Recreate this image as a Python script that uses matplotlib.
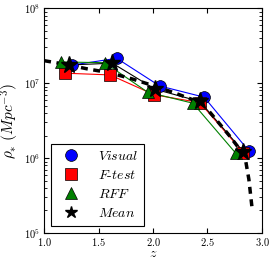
import matplotlib
matplotlib.use('Agg')
import matplotlib.pyplot as plt
from matplotlib.lines import Line2D

plt.rcParams['font.family'] = 'serif'
plt.rcParams['font.serif'] = ['cmr10', 'DejaVu Serif']
plt.rcParams['mathtext.fontset'] = 'cm'
plt.rcParams['axes.formatter.use_mathtext'] = True
plt.rcParams['xtick.direction'] = 'in'
plt.rcParams['ytick.direction'] = 'in'
plt.rcParams['xtick.top'] = True
plt.rcParams['ytick.right'] = True

# binned densities for each method
z_visual = [1.26, 1.667, 2.06, 2.47, 2.877]
rho_visual = [1.75e7, 2.15e7, 9.2e6, 6.5e6, 1.26e6]

z_ftest = [1.194, 1.605, 2.012, 2.43, 2.83]
rho_ftest = [1.36e7, 1.29e7, 7.0e6, 5.5e6, 1.18e6]

z_rff = [1.155, 1.556, 1.95, 2.367, 2.76]
rho_rff = [1.92e7, 1.88e7, 7.6e6, 5.4e6, 1.16e6]

z_mean = [1.225, 1.627, 2.02, 2.43, 2.83]
rho_mean = [1.75e7, 1.85e7, 8.3e6, 5.7e6, 1.22e6]

# dashed fit curve
z_fit = [1.0, 1.2, 1.4, 1.6, 1.8, 2.0, 2.2, 2.4, 2.5, 2.6, 2.7, 2.8, 2.85, 2.88, 2.91]
rho_fit = [2.0e7, 1.78e7, 1.55e7, 1.38e7, 1.15e7, 9.3e6, 7.4e6, 5.75e6, 4.47e6,
           3.0e6, 2.0e6, 1.29e6, 9.3e5, 5.2e5, 2.1e5]

fig = plt.figure(figsize=(2.74, 2.6), dpi=100)
ax = fig.add_axes([0.161, 0.104, 0.795, 0.864])

ax.plot(z_visual, rho_visual, '-', color='blue', lw=0.8, zorder=2)
ax.plot(z_ftest, rho_ftest, '-', color='red', lw=0.8, zorder=2)
ax.plot(z_rff, rho_rff, '-', color='green', lw=0.8, zorder=2)
ax.plot(z_mean, rho_mean, '-', color='black', lw=0.8, zorder=2)
ax.plot(z_fit, rho_fit, color='black', lw=2.5, dashes=(2, 1.6), zorder=3)

ax.plot(z_visual, rho_visual, 'o', color='blue', mec='black', mew=0.5, ms=8.5, zorder=4)
ax.plot(z_ftest, rho_ftest, 's', color='red', mec='black', mew=0.5, ms=8, zorder=4)
ax.plot(z_rff, rho_rff, '^', color='green', mec='black', mew=0.5, ms=8.5, zorder=4)
ax.plot(z_mean, rho_mean, '*', color='black', ms=12.5, zorder=5)

ax.set_yscale('log')
ax.set_xlim(1.0, 3.0)
ax.set_ylim(1e5, 1e8)
ax.set_xticks([1.0, 1.5, 2.0, 2.5, 3.0])
ax.tick_params(labelsize=7.5, pad=2.5)
ax.set_xlabel(r'$z$', fontsize=10)
ax.set_ylabel(r'$\rho_{*}\ (Mpc^{-3})$', fontsize=11)
ax.xaxis.set_label_coords(0.5, -0.066)
ax.yaxis.set_label_coords(-0.105, 0.5)

handles = [
    Line2D([], [], ls='none', marker='o', color='blue', mec='black', mew=0.5, ms=8.5),
    Line2D([], [], ls='none', marker='s', color='red', mec='black', mew=0.5, ms=8),
    Line2D([], [], ls='none', marker='^', color='green', mec='black', mew=0.5, ms=8.5),
    Line2D([], [], ls='none', marker='*', color='black', ms=9),
]
labels = [r'$Visual$', r'$F$-$test$', r'$RFF$', r'$Mean$']
leg = ax.legend(handles, labels, loc='lower left', numpoints=1, fontsize=10,
                fancybox=False, framealpha=1, edgecolor='black',
                borderaxespad=0.5, handletextpad=0.9, labelspacing=0.42,
                borderpad=0.45)
leg.get_frame().set_linewidth(0.8)

plt.savefig('out.png', dpi=100)
